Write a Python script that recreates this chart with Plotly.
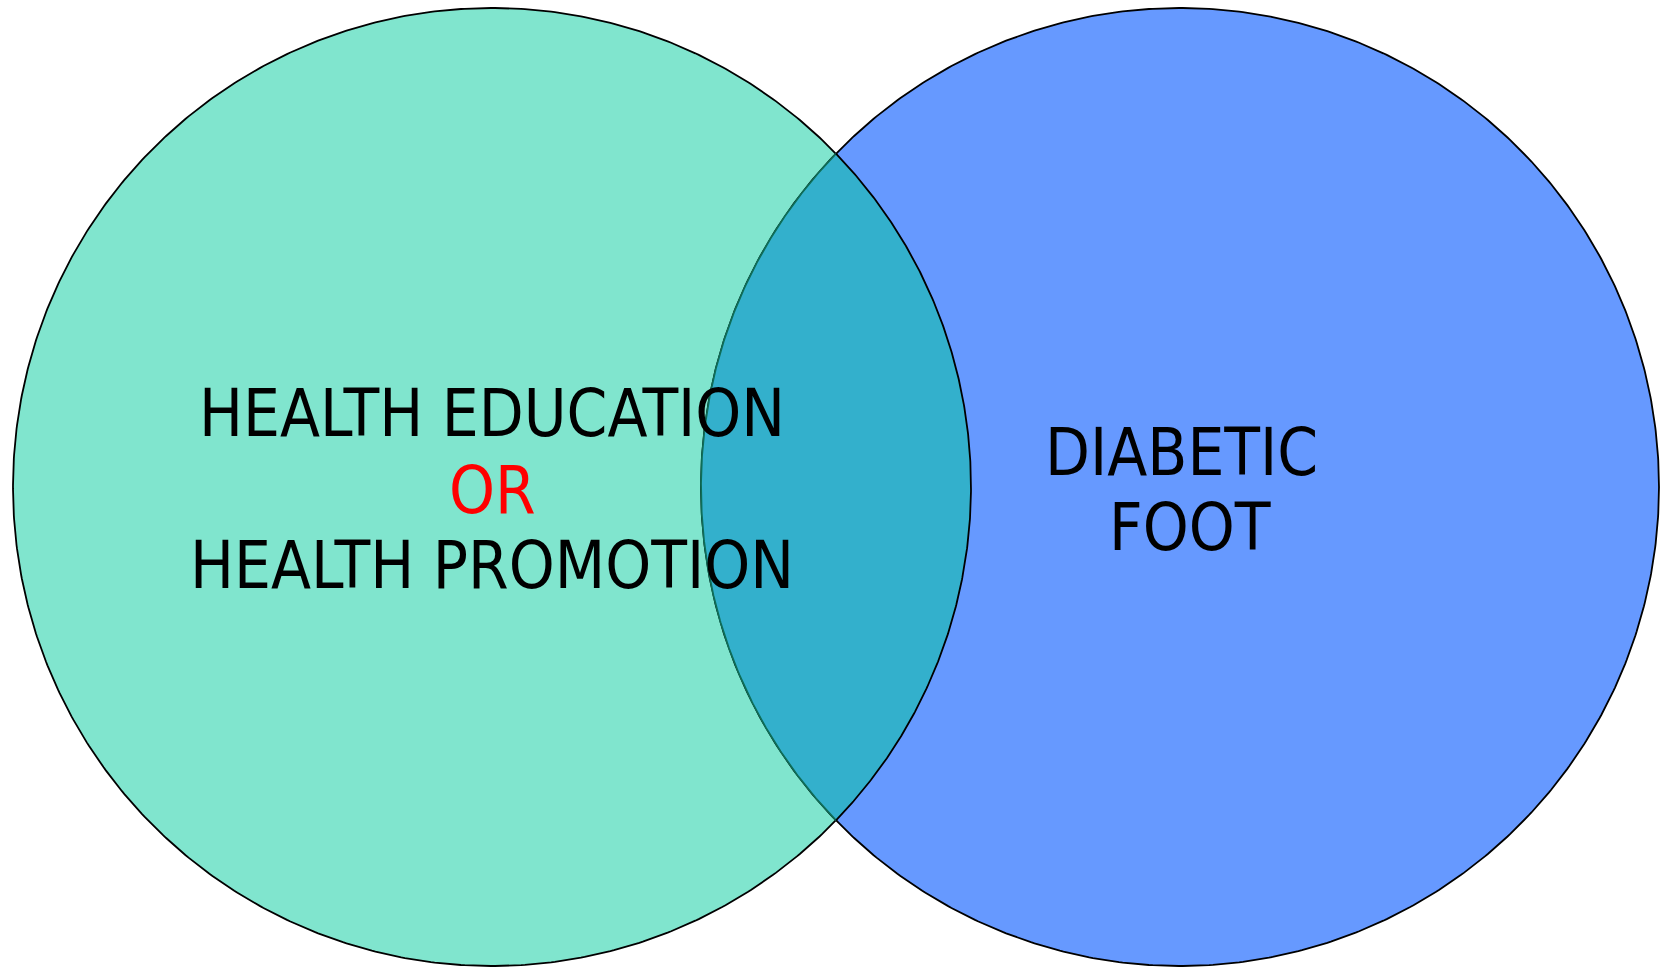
import numpy as np
import plotly.graph_objects as go

# Venn sets
set_names = ["Health education / promotion", "Diabetic foot"]
left_lines = ["HEALTH EDUCATION", "OR", "HEALTH PROMOTION"]
left_line_colors = ["#000000", "#FF0000", "#000000"]
right_lines = ["DIABETIC", "FOOT"]

W, H = 1669, 969
R = 479
CL = (492, 487)
CR = (1180, 487)

FILL_L = "#80E5CE"
FILL_R = "#6699FF"
FILL_X = "#33B0CC"

def arc(c, r, a0, a1, n=400):
    t = np.linspace(a0, a1, n)
    return c[0] + r * np.cos(t), c[1] + r * np.sin(t)

d = CR[0] - CL[0]
theta = np.arccos((d / 2) / R)

fig = go.Figure()
for c, col, name in [(CL, FILL_L, set_names[0]), (CR, FILL_R, set_names[1])]:
    x, y = arc(c, R, 0, 2 * np.pi, 800)
    fig.add_trace(go.Scatter(x=x, y=y, mode="lines", fill="toself", fillcolor=col,
                             line=dict(color="black", width=1.8), name=name,
                             hoverinfo="skip", showlegend=False))
x1, y1 = arc(CL, R, -theta, theta)
x2, y2 = arc(CR, R, np.pi - theta, np.pi + theta)
fig.add_trace(go.Scatter(x=np.concatenate([x1, x2]), y=np.concatenate([y1, y2]), mode="lines",
                         fill="toself", fillcolor=FILL_X, line=dict(width=0),
                         hoverinfo="skip", showlegend=False))
fig.add_trace(go.Scatter(x=x2, y=y2, mode="lines", line=dict(color="#0E6E58", width=1.8),
                         hoverinfo="skip", showlegend=False))
fig.add_trace(go.Scatter(x=x1, y=y1, mode="lines", line=dict(color="black", width=1.8),
                         hoverinfo="skip", showlegend=False))

FONT = "DejaVu Sans Condensed, DejaVu Sans, sans-serif"
FS = 65
left_y = [413, 490, 565]
for txt, col, yy in zip(left_lines, left_line_colors, left_y):
    fig.add_annotation(x=492, y=yy, text=txt, showarrow=False, xanchor="center", yanchor="middle",
                       font=dict(family=FONT, size=FS, color=col))
right_y = [452, 527]
right_x = [1181, 1190]
for txt, xx, yy in zip(right_lines, right_x, right_y):
    fig.add_annotation(x=xx, y=yy, text=txt, showarrow=False, xanchor="center", yanchor="middle",
                       font=dict(family=FONT, size=FS, color="black"))

fig.update_layout(width=W, height=H, margin=dict(l=0, r=0, t=0, b=0),
                  paper_bgcolor="white", plot_bgcolor="white", showlegend=False)
fig.update_xaxes(range=[0, W], visible=False, fixedrange=True)
fig.update_yaxes(range=[H, 0], visible=False, fixedrange=True)
fig.write_html("out.html", config={"displayModeBar": False},
               post_script="document.body.style.margin='0';document.body.style.overflow='hidden';")
